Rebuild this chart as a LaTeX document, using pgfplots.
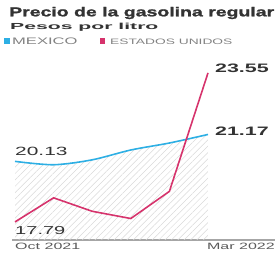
\documentclass[border=0pt]{standalone}
\usepackage{pgfplots}
\pgfplotsset{compat=1.18}
\usetikzlibrary{patterns.meta}
\usepackage{fontspec}
\setmainfont{Liberation Sans}[FakeStretch=1.75]
\newfontfamily\titlefont{Liberation Sans}[FakeStretch=1.5,FakeBold=1.5]
\definecolor{mxblue}{RGB}{45,175,228}
\definecolor{usred}{RGB}{214,51,108}
\definecolor{txt}{RGB}{51,51,51}
\definecolor{tick}{RGB}{90,90,90}
\definecolor{leg}{RGB}{130,130,130}
\begin{document}
\begin{tikzpicture}[x=1bp,y=1bp]
\path[use as bounding box] (0,0) rectangle (279,265);
% title, subtitle, legend
\node[anchor=west,inner sep=0,text=txt] at (9,252) {\resizebox{265bp}{!}{\titlefont\fontsize{12.6}{14}\selectfont\bfseries Precio de la gasolina regular}};
\node[anchor=west,inner sep=0,text=txt] at (10,237.5) {\scalebox{1.38}[1]{\fontsize{8.8}{9}\selectfont\bfseries Pesos por litro}};
\fill[mxblue] (4.5,221) rectangle (10,226.5);
\node[anchor=west,inner sep=0,text=leg] at (12,223.5) {\fontsize{9.5}{9}\selectfont MEXICO};
\fill[usred] (99.5,221) rectangle (105,226.5);
\node[anchor=west,inner sep=0,text=leg] at (110,223.5) {\fontsize{7.9}{9}\selectfont ESTADOS UNIDOS};
\begin{axis}[
  at={(12bp,25bp)}, anchor=south west,
  scale only axis, width=263bp, height=172bp,
  xmin=-0.078, xmax=6.736, ymin=17.09, ymax=23.74,
  axis x line*=bottom, axis y line=none,
  x axis line style={draw=gray!70, line width=1.3pt, -},
  xtick=\empty, ytick=\empty,
  clip=false,
]
\addplot[draw=none, pattern={Lines[angle=45,distance=4.5bp,line width=0.5pt]}, pattern color=gray!30]
  coordinates {(0,17.09) (0,20.13) (1,20.00) (2,20.19) (3,20.57) (4,20.84) (5,21.17) (5,17.09)} -- cycle;
\addplot[mxblue, line width=1.6pt, smooth, tension=0.5]
  coordinates {(0,20.13) (1,20.00) (2,20.19) (3,20.57) (4,20.84) (5,21.17)};
\addplot[usred, line width=1.6pt]
  coordinates {(0,17.79) (1,18.72) (2,18.20) (3,17.92) (4,18.97) (5,23.55)};
\node[anchor=south west,inner sep=0,text=txt] at (axis cs:0,20.35) {\fontsize{12}{12}\selectfont 20.13};
\node[anchor=south west,inner sep=0,text=txt] at (axis cs:0,17.30) {\fontsize{11.5}{12}\selectfont 17.79};
\node[anchor=west,inner sep=0,text=txt] at (axis cs:5.18,23.74) {\fontsize{12.3}{12}\selectfont\bfseries 23.55};
\node[anchor=west,inner sep=0,text=txt] at (axis cs:5.18,21.3) {\fontsize{12.3}{12}\selectfont\bfseries 21.17};
\node[anchor=north west,inner sep=0,text=tick] at (axis cs:0,16.97) {\fontsize{9.2}{9}\selectfont Oct 2021};
\node[anchor=north east,inner sep=0,text=tick] at (axis cs:6.736,16.97) {\fontsize{9.2}{9}\selectfont Mar 2022};
\end{axis}
\end{tikzpicture}
\end{document}
